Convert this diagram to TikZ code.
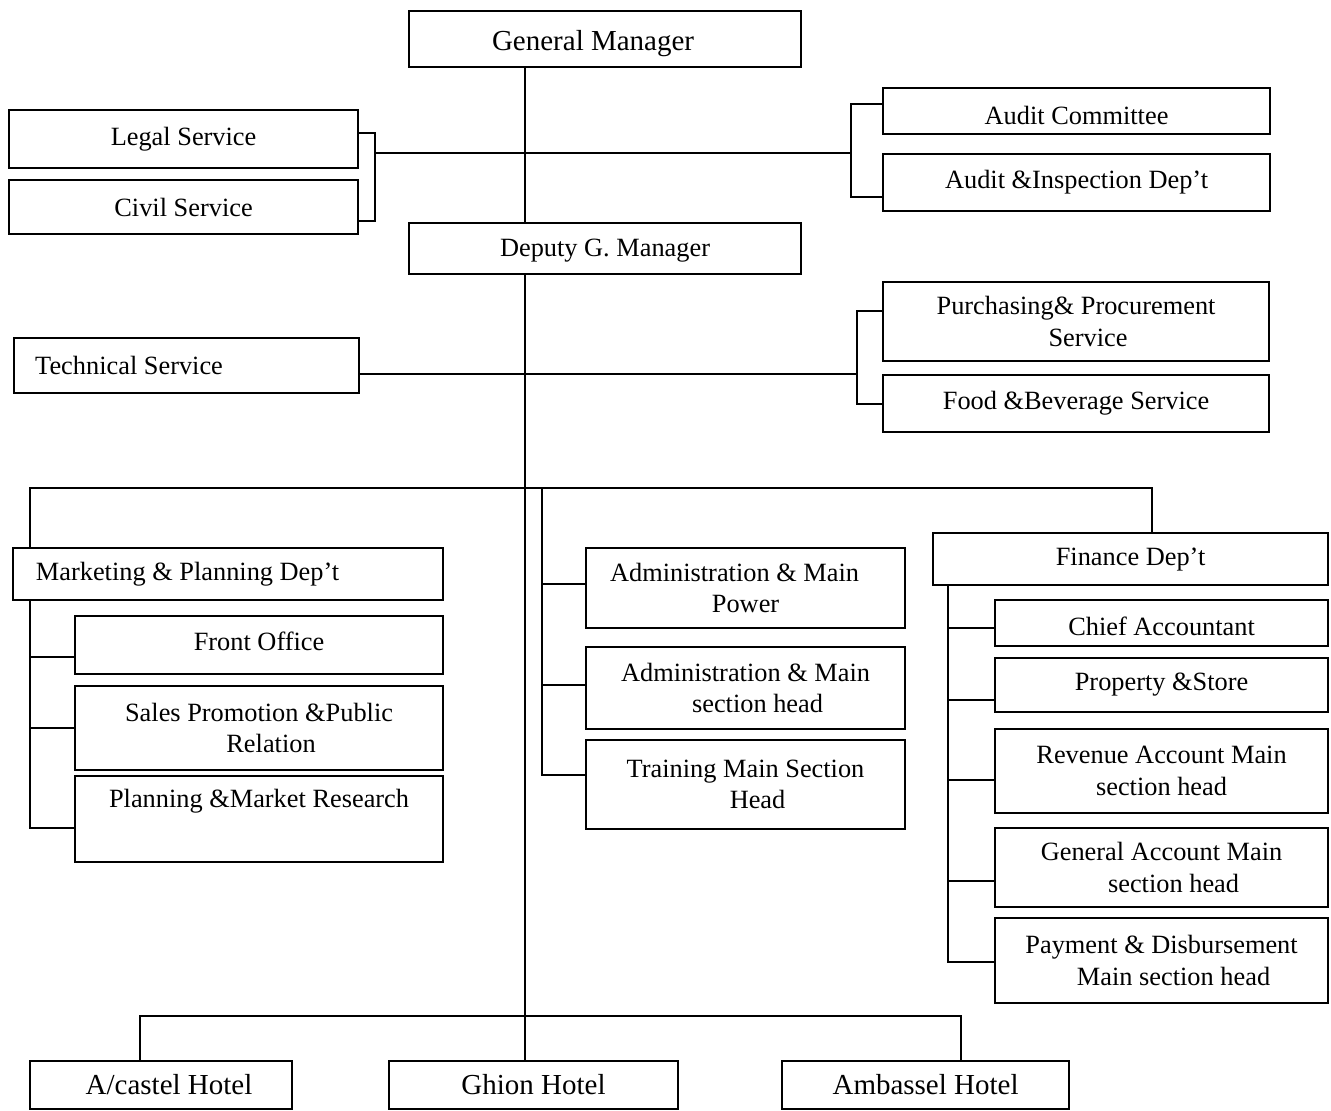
\documentclass[tikz,border=0pt]{standalone}
\usepackage{fontspec}
\setmainfont{Liberation Serif}
\tikzset{
	unit/.style 2 args={draw, line width=1.2pt, inner sep=0pt, anchor=north west,
		minimum width=0.02cm*#1, minimum height=0.02cm*#2, align=center,
		font=\fontsize{15}{18}\selectfont},
	big/.style={font=\fontsize{16.5}{19}\selectfont},
	link/.style={line width=1pt},
}
\newcommand{\nudge}{\hspace*{0.48cm}}
\newcommand{\downby}[1]{\rule{0pt}{#1}}
\newcommand{\upby}[1]{\rule[-#1]{0pt}{0pt}}
\begin{document}
\begin{tikzpicture}[x=0.02cm, y=-0.02cm]
	\useasboundingbox (0,0) rectangle (1331,1110);

	\node[unit={392}{56}, big] (gm) at (408,10) {\downby{17pt}General Manager\nudge};
	\node[unit={392}{51}] (dgm) at (408,222) {\downby{12.7pt}Deputy G. Manager};
	\node[unit={349}{58}] (legal) at (8,109) {Legal Service};
	\node[unit={349}{54}] (civil) at (8,179) {Civil Service};
	\node[unit={387}{46}] (audc) at (882,87) {\downby{15pt}Audit Committee};
	\node[unit={387}{57}] (audi) at (882,153) {Audit \&Inspection Dep’t};

	\node[unit={345}{55}] (tech) at (13,337) {Technical Service\hspace*{2.3cm}};
	\node[unit={386}{79}] (purch) at (882,281) {Purchasing\& Procurement\\\nudge Service};
	\node[unit={386}{57}] (food) at (882,374) {Food \&Beverage Service};

	\node[unit={430}{52}] (mkt) at (12,547) {Marketing \& Planning Dep’t\hspace*{1.62cm}};
	\node[unit={368}{58}] (front) at (74,615) {\upby{4.5pt}Front Office};
	\node[unit={368}{84}] (sales) at (74,685) {Sales Promotion \&Public\\\nudge Relation};
	\node[unit={368}{86}] (plan) at (74,775) {Planning \&Market Research\\\strut};

	\node[unit={319}{80}] (adm1) at (585,547) {Administration \& Main\hspace*{0.44cm}\\Power};
	\node[unit={319}{82}] (adm2) at (585,646) {Administration \& Main\\\nudge section head};
	\node[unit={319}{89}] (train) at (585,739) {Training Main Section\\\nudge Head};

	\node[unit={395}{52}] (fin) at (932,532) {Finance Dep’t};
	\node[unit={333}{46}] (chief) at (994,599) {\downby{14pt}Chief Accountant};
	\node[unit={333}{54}] (prop) at (994,657) {Property \&Store};
	\node[unit={333}{84}] (rev) at (994,728) {Revenue Account Main\\section head};
	\node[unit={333}{79}] (gen) at (994,827) {General Account Main\\\nudge section head};
	\node[unit={333}{85}] (pay) at (994,917) {Payment \& Disbursement\\\nudge Main section head};

	\node[unit={262}{48}, big] (acastel) at (29,1060) {\hspace*{0.32cm}A/castel Hotel};
	\node[unit={289}{48}, big] (ghion) at (388,1060) {Ghion Hotel};
	\node[unit={287}{48}, big] (ambassel) at (781,1060) {Ambassel Hotel};

	% junctions
	\coordinate (spine) at (525,0);
	\coordinate (jl) at (375,153);
	\coordinate (jr) at (851,153);
	\coordinate (jt) at (857,374);
	\coordinate (busl) at (30,488);
	\coordinate (busr) at (1152,488);
	\coordinate (ja) at (542,488);
	\coordinate (jf) at (948,0);
	\coordinate (hl) at (140,1016);
	\coordinate (hr) at (961,1016);

	\path[draw,link] (gm.south -| spine) -- (dgm.north -| spine);
	\path[draw,link] (dgm.south -| spine) -- (ghion.north -| spine);
	\path[draw,link] (legal.east |- 0,133) -| (jl) |- (civil.east |- 0,221);
	\path[draw,link] (jl) -- (jr);
	\path[draw,link] (audc.west |- 0,104) -| (jr) |- (audi.west |- 0,197);
	\path[draw,link] (tech.east |- jt) -- (jt);
	\path[draw,link] (purch.west |- 0,311) -| (jt) |- (food.west |- 0,404);
	\path[draw,link] (mkt.north -| busl) |- (busr) -- (fin.north -| busr);
	\foreach \n/\y in {adm1/584, adm2/685, train/775}
		\path[draw,link] (ja) |- (\n.west |- 0,\y);
	\foreach \n/\y in {front/657, sales/728, plan/828}
		\path[draw,link] (mkt.south -| busl) |- (\n.west |- 0,\y);
	\foreach \n/\y in {chief/628, prop/700, rev/780, gen/881, pay/962}
		\path[draw,link] (fin.south -| jf) |- (\n.west |- 0,\y);
	\path[draw,link] (acastel.north -| hl) -- (hl) -- (hr) -- (ambassel.north -| hr);
\end{tikzpicture}
\end{document}
